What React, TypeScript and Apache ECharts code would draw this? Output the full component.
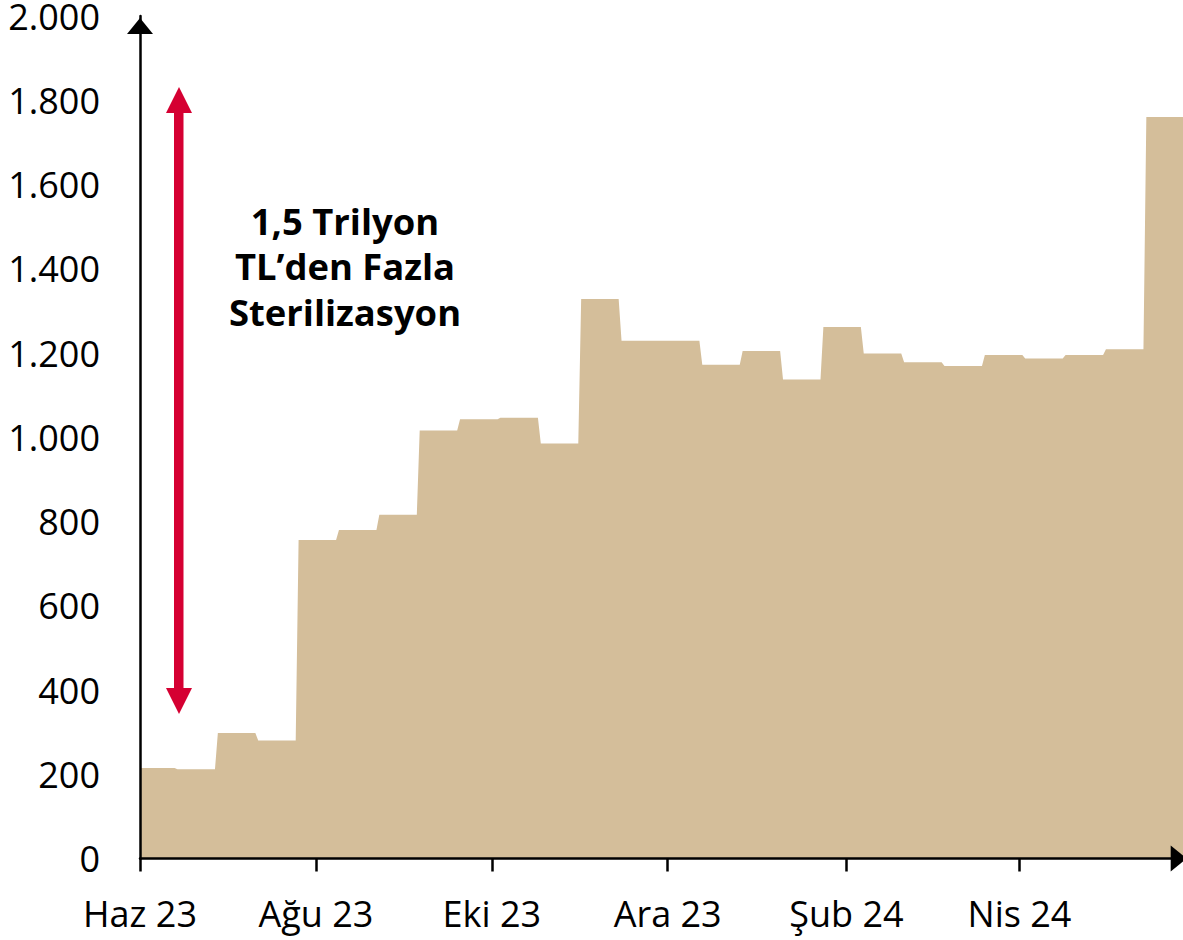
import { useEffect, useRef } from 'react';
import * as echarts from 'echarts';

// Two-week periods: start date and value (billion TL)
const periodStarts = [
  '2023-06-01', '2023-06-14', '2023-06-28', '2023-07-12', '2023-07-26', '2023-08-09',
  '2023-08-23', '2023-09-06', '2023-09-20', '2023-10-04', '2023-10-18', '2023-11-01',
  '2023-11-15', '2023-11-29', '2023-12-13', '2023-12-27', '2024-01-10', '2024-01-24',
  '2024-02-07', '2024-02-21', '2024-03-06', '2024-03-20', '2024-04-03', '2024-04-17',
  '2024-05-01', '2024-05-15',
];
const periodValues = [
  215, 212, 298, 280, 756, 780, 816, 1016, 1043, 1046, 985, 1328, 1229, 1229,
  1172, 1205, 1137, 1262, 1199, 1178, 1169, 1195, 1187, 1195, 1209, 1760,
];
const xMinDate = '2023-06-01';
const xMaxDate = '2024-05-29';
const tickDates = ['2023-06-01', '2023-08-01', '2023-10-01', '2023-12-01', '2024-02-01', '2024-04-01'];
const tickLabels = ['Haz 23', 'Ağu 23', 'Eki 23', 'Ara 23', 'Şub 24', 'Nis 24'];
const annotation = '1,5 Trilyon\nTL’den Fazla\nSterilizasyon';

const DAY = 86400000;
const ts = (s: string) => Date.parse(s + 'T00:00:00Z');
const FONT = '"Open Sans", "Noto Sans", sans-serif';
const TAN = '#D4BE9A';
const RED = '#D50032';

function fmtY(v: number) {
  if (v >= 1000) return Math.floor(v / 1000) + '.' + String(v % 1000).padStart(3, '0');
  return String(v);
}

export default function App() {
  const ref = useRef<HTMLDivElement>(null);
  useEffect(() => {
    if (!ref.current) return;
    const chart = echarts.init(ref.current, null, { renderer: 'svg' });
    const xMax = ts(xMaxDate);
    const data: [number, number][] = [];
    periodStarts.forEach((s, i) => {
      const start = ts(s);
      const end = i < periodStarts.length - 1 ? ts(periodStarts[i + 1]) - DAY : xMax;
      data.push([start, periodValues[i]]);
      data.push([end, periodValues[i]]);
    });
    const tickTimes = tickDates.map(ts);
    chart.setOption({
      animation: false,
      textStyle: { fontFamily: FONT },
      grid: { left: 140, width: 1046.7, top: 16, bottom: 81.5, containLabel: false, outerBoundsMode: 'none' },
      xAxis: {
        type: 'value',
        min: ts(xMinDate),
        max: xMax,
        z: 5,
        axisLine: {
          show: true,
          onZero: false,
          lineStyle: { color: '#000', width: 2.5 },
          symbol: ['none', 'triangle'],
          symbolSize: [26, 16],
          symbolOffset: [0, -8],
        },
        axisTick: { show: true, length: 13, lineStyle: { color: '#000', width: 2.5 }, customValues: tickTimes },
        axisLabel: {
          customValues: tickTimes,
          formatter: (v: number) => tickLabels[tickTimes.indexOf(v)] ?? '',
          fontSize: 36,
          fontFamily: FONT,
          color: '#000',
          margin: 37,
        },
        splitLine: { show: false },
      },
      yAxis: {
        type: 'value',
        min: 0,
        max: 2000,
        interval: 200,
        z: 5,
        axisLine: {
          show: true,
          onZero: false,
          lineStyle: { color: '#000', width: 2.5 },
          symbol: ['none', 'triangle'],
          symbolSize: [26, 16],
          symbolOffset: [0, -10],
        },
        axisTick: { show: false },
        axisLabel: { formatter: fmtY, fontSize: 36, fontFamily: FONT, color: '#000', margin: 40 },
        splitLine: { show: false },
      },
      series: [
        {
          type: 'line',
          data,
          symbol: 'none',
          showSymbol: false,
          silent: true,
          lineStyle: { width: 0, color: TAN },
          areaStyle: { color: TAN, opacity: 1 },
          z: 2,
        },
      ],
      graphic: [
        { type: 'rect', z: 10, shape: { x: 174, y: 108, width: 9.5, height: 585 }, style: { fill: RED } },
        { type: 'polygon', z: 10, shape: { points: [[179, 87], [192, 113], [166, 113]] }, style: { fill: RED } },
        { type: 'polygon', z: 10, shape: { points: [[166, 688], [192, 688], [179, 714]] }, style: { fill: RED } },
        {
          type: 'text',
          z: 10,
          x: 345,
          y: 266,
          style: {
            text: annotation,
            fontFamily: FONT,
            fontSize: 36.4,
            fontWeight: 'bold',
            lineHeight: 45.5,
            align: 'center',
            verticalAlign: 'middle',
            fill: '#000',
          },
        },
      ],
    });
    return () => chart.dispose();
  }, []);
  return <div ref={ref} style={{ position: 'absolute', left: 0, top: 0, width: 1183, height: 940 }} />;
}
